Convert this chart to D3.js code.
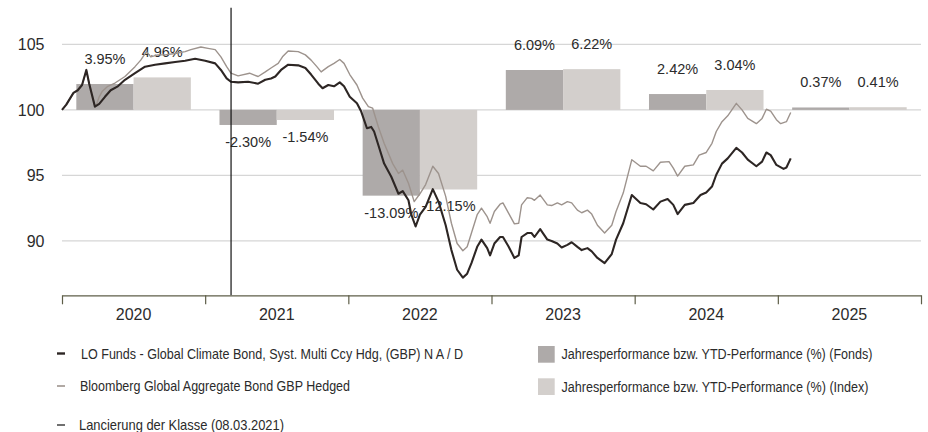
<!DOCTYPE html>
<html>
<head>
<meta charset="utf-8">
<script src="https://cdn.jsdelivr.net/npm/d3@7"></script>
<style>
    body { margin: 0; background: #fff; }
    #chart { width: 928px; height: 432px; }
    text { fill: #2b2b2b; font-family: "Liberation Sans", Arial, sans-serif; }
</style>
</head>
<body>
<div id="chart"></div>
<script>

// year bands + annual performance bars
const years = ["2020", "2021", "2022", "2023", "2024", "2025"];
const yearStarts = [2020, 2021, 2022, 2023, 2024, 2025, 2026];
const fondsPerf = [3.95, -2.30, -13.09, 6.09, 2.42, 0.37];
const indexPerf = [4.96, -1.54, -12.15, 6.22, 3.04, 0.41];
const yTicks = [90, 95, 100, 105];
const launchDate = "2021-03-08";

const lineLegend = [
    "LO Funds - Global Climate Bond, Syst. Multi Ccy Hdg, (GBP) N A / D",
    "Bloomberg Global Aggregate Bond GBP Hedged"
];
const barLegend = [
    "Jahresperformance bzw. YTD-Performance (%) (Fonds)",
    "Jahresperformance bzw. YTD-Performance (%) (Index)"
];
const launchLabel = "Lancierung der Klasse (08.03.2021)";

// [decimal year, indexed value]
const fundSeries = [
    [2020.00, 100.0], [2020.03, 100.4], [2020.08, 101.3], [2020.11, 101.5], [2020.14, 101.9],
    [2020.17, 103.05], [2020.19, 102.0], [2020.23, 100.25], [2020.26, 100.46], [2020.30, 101.0],
    [2020.34, 101.5], [2020.39, 101.8], [2020.44, 102.3], [2020.51, 102.8], [2020.58, 103.3],
    [2020.65, 103.45], [2020.72, 103.55], [2020.79, 103.65], [2020.86, 103.75], [2020.93, 103.9],
    [2021.00, 103.75], [2021.07, 103.55], [2021.11, 103.05], [2021.15, 102.4], [2021.18, 102.15],
    [2021.23, 102.1], [2021.30, 102.15], [2021.37, 102.0], [2021.42, 102.3], [2021.46, 102.4],
    [2021.49, 102.55], [2021.53, 103.05], [2021.58, 103.45], [2021.65, 103.4], [2021.70, 103.2],
    [2021.74, 102.7], [2021.79, 102.0], [2021.82, 101.65], [2021.86, 101.9], [2021.90, 101.8],
    [2021.94, 102.1], [2021.97, 101.8], [2022.01, 101.0], [2022.06, 100.5], [2022.09, 99.87],
    [2022.13, 98.6], [2022.16, 98.7], [2022.18, 98.35], [2022.21, 97.3], [2022.25, 95.9],
    [2022.30, 94.9], [2022.35, 93.6], [2022.38, 93.8], [2022.42, 93.1], [2022.44, 92.0],
    [2022.47, 91.1], [2022.50, 92.0], [2022.54, 92.6], [2022.59, 93.95], [2022.63, 93.0],
    [2022.68, 91.2], [2022.72, 89.3], [2022.76, 87.8], [2022.80, 87.2], [2022.83, 87.5],
    [2022.86, 88.3], [2022.90, 89.55], [2022.93, 90.1], [2022.97, 89.45], [2022.99, 88.9],
    [2023.02, 89.8], [2023.06, 90.3], [2023.08, 90.3], [2023.12, 89.55], [2023.16, 88.7],
    [2023.19, 88.9], [2023.21, 90.3], [2023.25, 90.6], [2023.28, 90.6], [2023.30, 90.3],
    [2023.34, 90.9], [2023.39, 90.1], [2023.42, 90.0], [2023.46, 89.8], [2023.49, 89.5],
    [2023.53, 89.7], [2023.56, 89.9], [2023.60, 89.55], [2023.63, 89.3], [2023.67, 89.45],
    [2023.70, 89.2], [2023.74, 88.7], [2023.79, 88.3], [2023.84, 89.0], [2023.87, 90.1],
    [2023.92, 91.35], [2023.98, 93.5], [2024.04, 92.9], [2024.08, 92.8], [2024.13, 92.4],
    [2024.18, 93.0], [2024.23, 93.2], [2024.27, 92.75], [2024.30, 92.05], [2024.35, 92.75],
    [2024.41, 92.9], [2024.46, 93.5], [2024.50, 93.7], [2024.54, 94.15], [2024.57, 95.05],
    [2024.61, 95.9], [2024.65, 96.3], [2024.71, 97.1], [2024.75, 96.75], [2024.79, 96.2],
    [2024.85, 95.7], [2024.89, 96.05], [2024.92, 96.75], [2024.95, 96.55], [2024.99, 95.8],
    [2025.04, 95.5], [2025.06, 95.6], [2025.09, 96.3]
];

const indexSeries = [
    [2020.00, 100.0], [2020.03, 100.4], [2020.08, 101.3], [2020.11, 101.5], [2020.14, 101.9],
    [2020.17, 103.0], [2020.19, 102.0], [2020.23, 100.3], [2020.24, 100.4], [2020.26, 101.0],
    [2020.28, 101.4], [2020.32, 101.8], [2020.37, 102.05], [2020.44, 102.55], [2020.51, 103.3],
    [2020.55, 103.8], [2020.59, 104.45], [2020.62, 104.05], [2020.67, 104.2], [2020.72, 104.2],
    [2020.79, 104.3], [2020.86, 104.45], [2020.90, 104.6], [2020.97, 104.8], [2021.02, 104.7],
    [2021.07, 104.6], [2021.11, 104.05], [2021.15, 103.3], [2021.18, 102.8], [2021.23, 102.6],
    [2021.31, 102.8], [2021.37, 102.55], [2021.42, 102.9], [2021.46, 103.2], [2021.51, 103.55],
    [2021.54, 104.05], [2021.58, 104.5], [2021.65, 104.45], [2021.70, 104.2], [2021.74, 103.8],
    [2021.78, 103.3], [2021.81, 102.9], [2021.86, 103.3], [2021.90, 103.55], [2021.94, 103.85],
    [2021.97, 103.55], [2022.01, 102.7], [2022.06, 101.9], [2022.10, 100.9], [2022.14, 100.25],
    [2022.17, 100.13], [2022.21, 98.7], [2022.25, 97.45], [2022.31, 95.9], [2022.35, 95.15],
    [2022.38, 95.4], [2022.42, 94.4], [2022.46, 93.0], [2022.50, 93.6], [2022.54, 94.3],
    [2022.59, 95.7], [2022.63, 95.15], [2022.68, 93.4], [2022.72, 91.35], [2022.76, 89.8],
    [2022.80, 89.25], [2022.83, 89.55], [2022.86, 90.6], [2022.90, 92.0], [2022.93, 92.5],
    [2022.97, 91.85], [2022.99, 91.35], [2023.02, 92.25], [2023.06, 92.8], [2023.08, 92.9],
    [2023.12, 92.1], [2023.16, 91.3], [2023.19, 91.35], [2023.21, 92.75], [2023.25, 93.3],
    [2023.28, 93.25], [2023.30, 93.1], [2023.34, 93.5], [2023.39, 92.75], [2023.42, 92.7],
    [2023.46, 92.9], [2023.49, 92.75], [2023.53, 93.0], [2023.56, 92.9], [2023.60, 92.35],
    [2023.63, 92.15], [2023.67, 92.35], [2023.70, 92.05], [2023.74, 91.2], [2023.79, 90.6],
    [2023.84, 91.2], [2023.87, 92.25], [2023.92, 93.65], [2023.98, 96.2], [2024.04, 95.7],
    [2024.08, 95.7], [2024.13, 95.35], [2024.18, 96.0], [2024.24, 96.05], [2024.27, 95.55],
    [2024.30, 94.95], [2024.35, 95.7], [2024.41, 95.8], [2024.45, 96.55], [2024.50, 96.75],
    [2024.54, 97.45], [2024.57, 98.35], [2024.61, 99.1], [2024.65, 99.55], [2024.71, 100.5],
    [2024.75, 100.0], [2024.79, 99.35], [2024.85, 98.95], [2024.89, 99.35], [2024.92, 100.05],
    [2024.95, 99.9], [2024.99, 99.25], [2025.02, 98.95], [2025.06, 99.1], [2025.09, 99.8]
];

/* * * * * * * * * * * * * *
*      class PerfChart     *
* * * * * * * * * * * * * */

class PerfChart {

    constructor(parentElement) {
        this.parentElement = parentElement;
        this.colors = {
            fund: "#2d2624",
            index: "#9d938d",
            fondsBar: "#aeaaa9",
            indexBar: "#d3cfcc",
            grid: "#d6d6d6",
            axis: "#5e5e48"
        };
        this.initVis();
    }

    initVis() {
        let vis = this;

        vis.margin = {top: 7.7, right: 7, bottom: 136.7, left: 62};
        vis.width = 928 - vis.margin.left - vis.margin.right;
        vis.height = 432 - vis.margin.top - vis.margin.bottom;

        vis.root = d3.select("#" + vis.parentElement).append("svg")
            .attr("width", 928)
            .attr("height", 432);

        vis.svg = vis.root.append("g")
            .attr("transform", "translate(" + vis.margin.left + "," + vis.margin.top + ")");

        // scales
        vis.yMin = 85.85;
        vis.yMax = 107.8;
        vis.x = d3.scaleLinear().domain([2020, 2026]).range([0, vis.width]);
        vis.y = d3.scaleLinear().domain([vis.yMin, vis.yMax]).range([vis.height, 0]);
        // bars: 1% = half an index point, 0% sits on the 100 line
        vis.yBar = d3.scaleLinear()
            .domain([(vis.yMin - 100) * 2, (vis.yMax - 100) * 2])
            .range([vis.height, 0]);
        vis.xBand = d3.scaleBand().domain(years).range([0, vis.width])
            .paddingInner(0.2).paddingOuter(0.1);
        vis.xSub = d3.scaleBand().domain(["fonds", "index"]).range([0, vis.xBand.bandwidth()]);

        vis.toYear = function(s) {
            let d = d3.timeParse("%Y-%m-%d")(s);
            let y = d.getFullYear();
            return y + (d - new Date(y, 0, 1)) / (new Date(y + 1, 0, 1) - new Date(y, 0, 1));
        };

        vis.updateVis();
    }

    updateVis() {
        let vis = this;

        // grid
        vis.svg.append("g").attr("class", "grid")
            .selectAll("line").data(yTicks).enter().append("line")
            .attr("x1", 0).attr("x2", vis.width)
            .attr("y1", d => vis.y(d)).attr("y2", d => vis.y(d))
            .attr("stroke", vis.colors.grid).attr("stroke-width", 1.2);

        vis.svg.append("g").attr("class", "y-labels")
            .selectAll("text").data(yTicks).enter().append("text")
            .attr("x", -17.5)
            .attr("y", d => vis.y(d))
            .attr("dy", "0.36em")
            .attr("text-anchor", "end")
            .style("font-size", "16px")
            .text(d => d);

        // bars
        let barData = [];
        years.forEach((yr, i) => {
            barData.push({year: yr, key: "fonds", value: fondsPerf[i]});
            barData.push({year: yr, key: "index", value: indexPerf[i]});
        });

        vis.svg.append("g").attr("class", "bars")
            .selectAll("rect").data(barData).enter().append("rect")
            .attr("x", d => vis.xBand(d.year) + vis.xSub(d.key))
            .attr("width", vis.xSub.bandwidth())
            .attr("y", d => vis.yBar(Math.max(0, d.value)))
            .attr("height", d => Math.abs(vis.yBar(d.value) - vis.yBar(0)))
            .attr("fill", d => d.key === "fonds" ? vis.colors.fondsBar : vis.colors.indexBar);

        vis.svg.append("g").attr("class", "bar-labels")
            .selectAll("text").data(barData).enter().append("text")
            .attr("x", d => vis.xBand(d.year) + vis.xSub(d.key) + vis.xSub.bandwidth() / 2)
            .attr("y", d => d.value >= 0 ? vis.yBar(d.value) - 20 : vis.yBar(d.value) + 22)
            .attr("text-anchor", "middle")
            .style("font-size", "14.5px")
            .text(d => d.value.toFixed(2) + "%");

        // lines
        vis.line = d3.line()
            .x(d => vis.x(d[0]))
            .y(d => vis.y(d[1]));

        vis.svg.append("path").datum(indexSeries)
            .attr("d", vis.line)
            .attr("fill", "none")
            .attr("stroke", vis.colors.index)
            .attr("stroke-width", 1.4)
            .attr("stroke-linejoin", "round");

        vis.svg.append("path").datum(fundSeries)
            .attr("d", vis.line)
            .attr("fill", "none")
            .attr("stroke", vis.colors.fund)
            .attr("stroke-width", 2.1)
            .attr("stroke-linejoin", "round");

        // launch marker
        let lx = vis.x(vis.toYear(launchDate));
        vis.svg.append("line")
            .attr("x1", lx).attr("x2", lx)
            .attr("y1", 0).attr("y2", vis.height)
            .attr("stroke", "#111").attr("stroke-width", 1.2);

        // x axis
        let xAxis = vis.svg.append("g")
            .attr("class", "axis axis--x")
            .attr("transform", "translate(0," + vis.height + ")")
            .call(d3.axisBottom(vis.x).tickValues(yearStarts).tickSize(9).tickSizeOuter(0).tickFormat(""));
        xAxis.select(".domain").attr("stroke", vis.colors.axis).attr("stroke-width", 1.2);
        xAxis.selectAll(".tick line").attr("stroke", vis.colors.axis).attr("stroke-width", 1.2);

        vis.svg.append("g").attr("class", "x-labels")
            .selectAll("text").data(years).enter().append("text")
            .attr("x", d => vis.xBand(d) + vis.xBand.bandwidth() / 2)
            .attr("y", vis.height + 25)
            .attr("text-anchor", "middle")
            .style("font-size", "16px")
            .text(d => d);

        // legend (text squeezed to the narrow face of the original)
        let legend = vis.root.append("g").attr("class", "legend");

        let lineItems = [
            {label: lineLegend[0], color: vis.colors.fund, w: 2.4, y: 353.5, tx: 81, len: 382},
            {label: lineLegend[1], color: vis.colors.index, w: 1.6, y: 386, tx: 80, len: 270},
            {label: launchLabel, color: "#111", w: 1.2, y: 425, tx: 79, len: 205}
        ];
        lineItems.forEach(d => {
            legend.append("line")
                .attr("x1", 57).attr("x2", 65)
                .attr("y1", d.y).attr("y2", d.y)
                .attr("stroke", d.color).attr("stroke-width", d.w);
            legend.append("text")
                .attr("x", d.tx).attr("y", d.y)
                .attr("dy", "0.36em")
                .attr("textLength", d.len)
                .attr("lengthAdjust", "spacingAndGlyphs")
                .style("font-size", "14.5px")
                .text(d.label);
        });

        let barItems = [
            {label: barLegend[0], color: vis.colors.fondsBar, y: 346, len: 311},
            {label: barLegend[1], color: vis.colors.indexBar, y: 378.3, len: 307}
        ];
        barItems.forEach(d => {
            legend.append("rect")
                .attr("x", 538).attr("y", d.y)
                .attr("width", 16.7).attr("height", 16.7)
                .attr("fill", d.color);
            legend.append("text")
                .attr("x", 561.5).attr("y", d.y + 8.3)
                .attr("dy", "0.36em")
                .attr("textLength", d.len)
                .attr("lengthAdjust", "spacingAndGlyphs")
                .style("font-size", "14px")
                .text(d.label);
        });
    }
}

new PerfChart("chart");

</script>
</body>
</html>
